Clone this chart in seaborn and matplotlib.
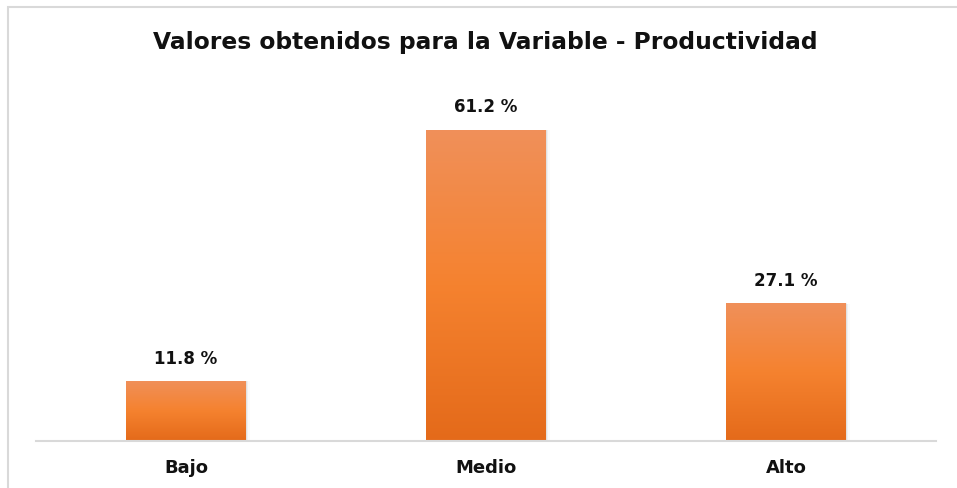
import numpy as np
import pandas as pd
import matplotlib.pyplot as plt
import seaborn as sns
from matplotlib.patches import Rectangle
from matplotlib.colors import LinearSegmentedColormap

# Data
categorias = ["Bajo", "Medio", "Alto"]
porcentajes = [11.8, 61.2, 27.1]
etiquetas = ["11.8 %", "61.2 %", "27.1 %"]

df = pd.DataFrame({"nivel": categorias, "pct": porcentajes})

sns.set_theme(style="white")
plt.rcParams["font.family"] = ["DejaVu Sans"]

W, H = 957, 488
fig = plt.figure(figsize=(W / 100, H / 100), dpi=100)
ax = fig.add_axes([36 / W, (H - 441) / H, 900 / W, (441 - 85) / H])

sns.barplot(data=df, x="nivel", y="pct", color="#F5822F", width=0.4, ax=ax,
            saturation=1)

# gradient fill on each bar
grad = LinearSegmentedColormap.from_list("naranja", ["#E46A1A", "#F5822F", "#F0905A"])
g = np.linspace(0, 1, 256).reshape(-1, 1)
for p in ax.patches[:]:
    x0, y0 = p.get_x(), p.get_y()
    w, h = p.get_width(), p.get_height()
    # soft shadow
    for k, a in [(0.004, 0.06), (0.008, 0.04), (0.012, 0.02)]:
        ax.add_patch(Rectangle((x0 + k, y0), w, h - k * 8, facecolor="#000000",
                               alpha=a, edgecolor="none", zorder=1.5))
    im = ax.imshow(g, cmap=grad, aspect="auto", origin="lower",
                   extent=[x0, x0 + w, y0, y0 + h], zorder=2)
    im.set_clip_path(p)
    p.set_facecolor("none")
    p.set_edgecolor("none")

ax.set_xlim(-0.5, 2.5)
ax.set_ylim(0, 70)

for i, (v, t) in enumerate(zip(porcentajes, etiquetas)):
    ax.text(i, v + 4.4, t, ha="center", va="center", fontsize=12,
            fontweight="bold", color="#111111")

ax.set_xlabel("")
ax.set_ylabel("")
ax.set_yticks([])
ax.set_xticks(range(len(categorias)))
ax.set_xticklabels(categorias, fontsize=13, fontweight="bold", color="#111111")
ax.tick_params(axis="x", length=0, pad=13)
for s in ["top", "right", "left"]:
    ax.spines[s].set_visible(False)
ax.spines["bottom"].set_color("#D9D9D9")
ax.spines["bottom"].set_linewidth(1.5)

fig.text(485 / W, 1 - 42 / H, "Valores obtenidos para la Variable - Productividad",
         ha="center", va="center", fontsize=16.8, fontweight="bold", color="#111111")

# chart border (left and top visible)
border = Rectangle((8 / W, -0.1), 1.2, 1 - 7 / H + 0.1, transform=fig.transFigure,
                   facecolor="none", edgecolor="#D9D9D9", linewidth=1.5)
fig.patches.append(border)

fig.savefig("out.png", dpi=100)
